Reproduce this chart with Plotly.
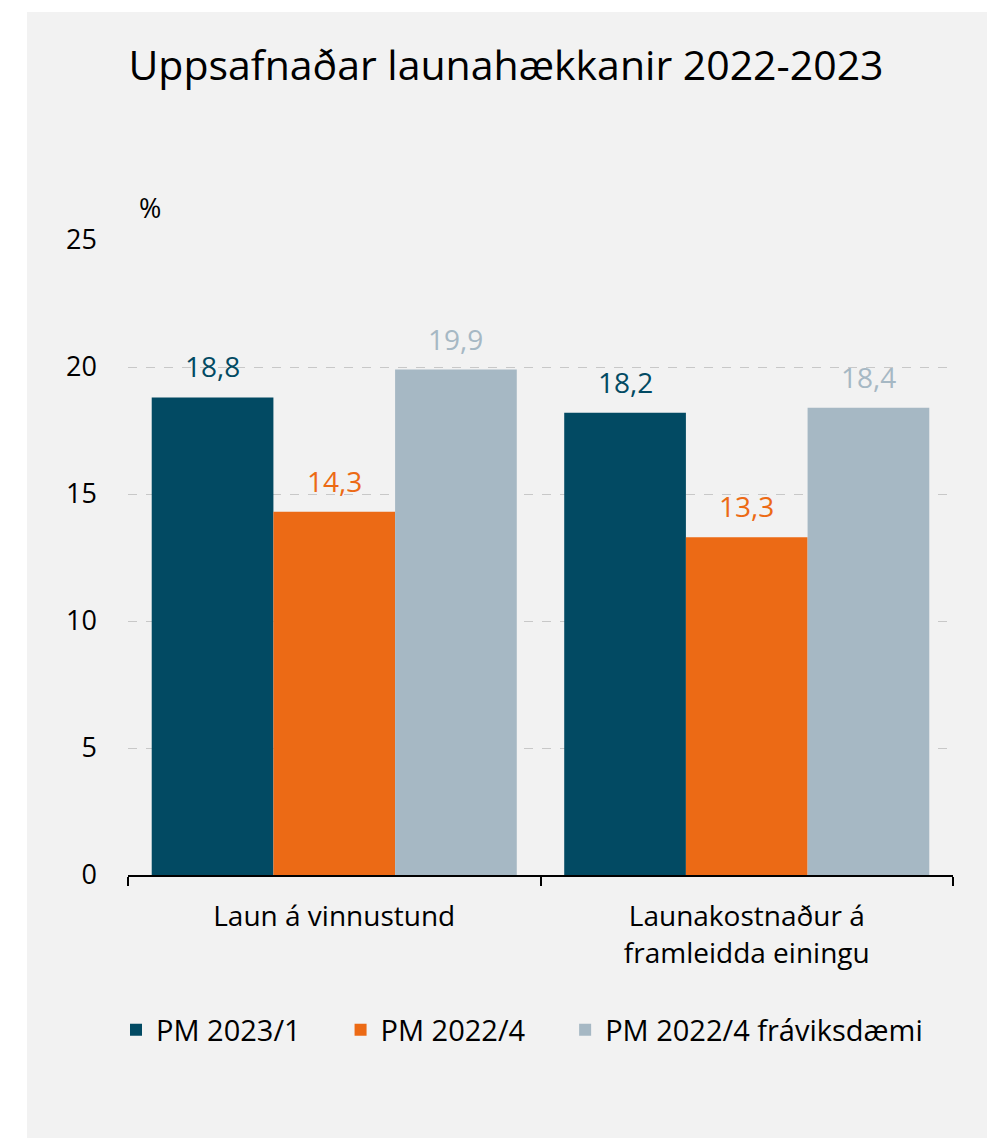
import plotly.graph_objects as go

# Data
categories = ["Laun á vinnustund", "Launakostnaður á<br>framleidda einingu"]
series_names = ["PM 2023/1", "PM 2022/4", "PM 2022/4 fráviksdæmi"]
values = [
    [18.8, 18.2],
    [14.3, 13.3],
    [19.9, 18.4],
]
y_ticks = [0, 5, 10, 15, 20, 25]

colors = ["#024a63", "#ec6a15", "#a6b8c4"]
FONT = "Open Sans, sans-serif"

# page has an 8px body margin, so the figure is 8px smaller than the window
W, H = 987, 1130
ML, MR, MT, MB = 120, 42, 232, 263
PW, PH = W - ML - MR, H - MT - MB

fig = go.Figure()
for k, (name, vals, col) in enumerate(zip(series_names, values, colors)):
    pad = "\u00a0" * 4 + "\u2009" if k < len(series_names) - 1 else ""
    fig.add_trace(go.Bar(
        x=categories, y=vals, name=name + pad,
        marker=dict(color=col, line=dict(width=0)),
        hoverinfo="skip",
    ))

# value labels above bars (offset per series within each group)
bar_px = PW / len(categories) * (1 - 0.115) / len(series_names)
for i, (vals, col) in enumerate(zip(values, colors)):
    for cat, v in zip(categories, vals):
        fig.add_annotation(
            x=cat, y=v, text=f"{v:.1f}".replace(".", ","),
            showarrow=False, xshift=(i - 1) * bar_px, yshift=10,
            yanchor="bottom", font=dict(family=FONT, size=28, color=col),
        )

# "%" unit label
fig.add_annotation(
    x=0, y=1, xref="paper", yref="paper", text="%", showarrow=False,
    xanchor="left", yanchor="bottom", xshift=9, yshift=12,
    font=dict(family=FONT, size=27, color="#000000"),
)

# grey panel background
fig.add_shape(
    type="rect", xref="paper", yref="paper", layer="below",
    x0=(19 - ML) / PW, x1=(W - ML) / PW,
    y0=-MB / PH, y1=(H - 4 - MB) / PH,
    fillcolor="#f2f2f2", line=dict(width=0),
)

fig.update_layout(
    width=W, height=H,
    margin=dict(l=ML, r=MR, t=MT, b=MB),
    paper_bgcolor="white",
    plot_bgcolor="#f2f2f2",
    barmode="group", bargap=0.115, bargroupgap=0,
    title=dict(
        text="Uppsafnaðar launahækkanir 2022-2023",
        x=498 / W, xanchor="center", y=1 - 58 / H, yanchor="middle",
        font=dict(family=FONT, size=41, color="#000000"),
    ),
    font=dict(family=FONT, size=28, color="#000000"),
    legend=dict(
        orientation="h", x=(108 - ML) / PW, xanchor="left",
        y=-(1022 - MT - PH) / PH, yanchor="middle",
        font=dict(family=FONT, size=29, color="#000000"),
        bgcolor="rgba(0,0,0,0)", itemclick=False, itemdoubleclick=False,
    ),
    showlegend=True,
)
fig.update_yaxes(
    range=[0, 25], tickvals=y_ticks, showgrid=True,
    gridcolor="#c8c8c8", griddash="dash", gridwidth=1,
    zeroline=False, showline=False, ticks="",
    ticklabelstandoff=30, tickfont=dict(family=FONT, size=27, color="#000000"),
)
fig.update_xaxes(
    showline=True, linecolor="#000000", linewidth=1.5,
    ticks="outside", tickson="boundaries", ticklen=9, tickcolor="#000000",
    tickwidth=1.5, showgrid=False, ticklabelstandoff=16,
    tickfont=dict(family=FONT, size=28, color="#000000"),
)

fig.write_html("out.html")
